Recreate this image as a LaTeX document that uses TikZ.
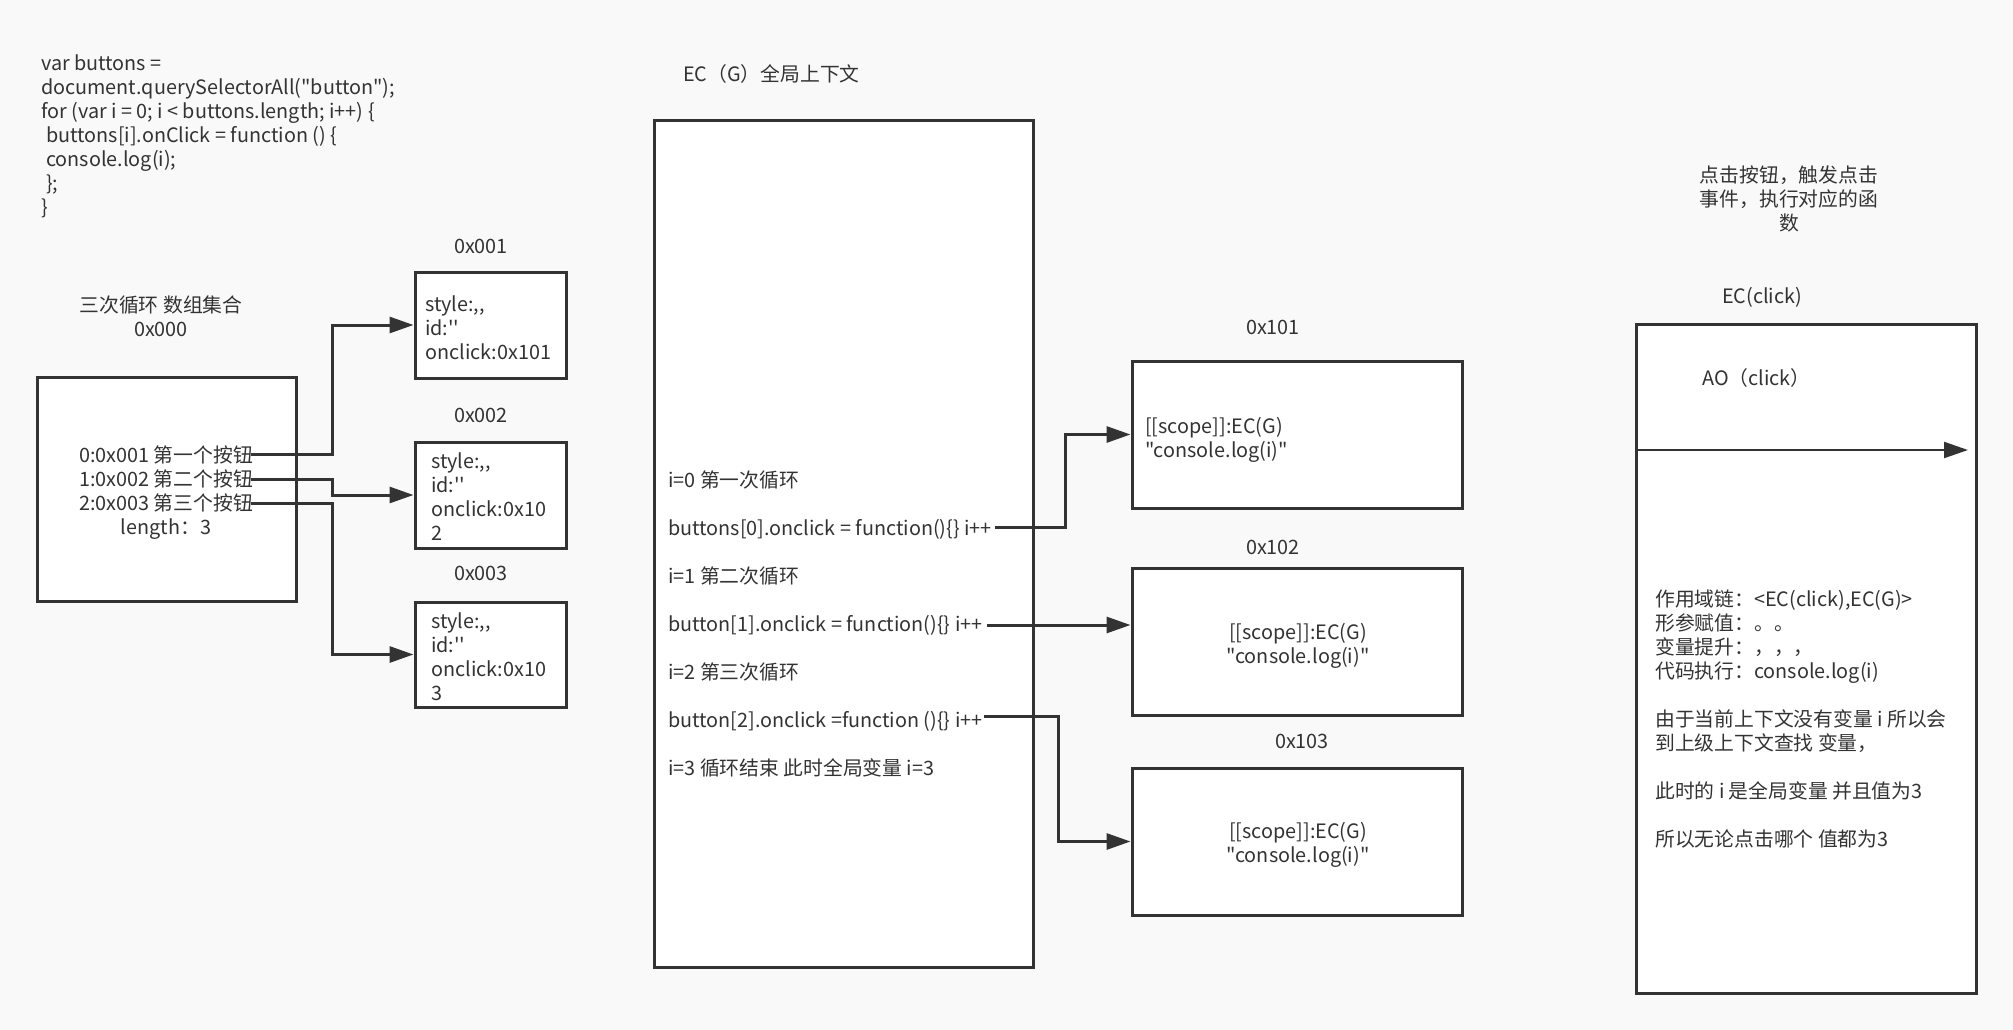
\documentclass[tikz,border=0pt]{standalone}
\usepackage{fontspec}
\setmainfont{Noto Sans CJK SC}[Ligatures=TeXOff]
\usetikzlibrary{arrows.meta}
\definecolor{ink}{HTML}{333333}
\definecolor{paper}{HTML}{F9F9F9}
\newcommand\fs{\fontsize{19.8}{24}\selectfont}
\begin{document}
\begin{tikzpicture}[x=1pt,y=-1pt,
  box/.style={draw=ink, line width=3pt, fill=white, inner sep=0pt},
  txt/.style={inner sep=0pt, font=\fs, text=ink, align=left},
  ctxt/.style={inner sep=0pt, font=\fs, text=ink, align=center},
  link/.style={draw=ink, line width=3pt, -{Triangle[length=24pt,width=16pt]}},
]
\fill[paper] (0,0) rectangle (2013,1030);
\useasboundingbox (0,0) rectangle (2013,1030);

% left: code
\node[txt, anchor=north west] (code) at (41,53.2) {\strut var buttons =\\document.querySelectorAll("button");\\for (var i = 0; i < buttons.length; i++) \{\\\hspace*{5pt}buttons[i].onClick = function () \{\\\hspace*{5pt}console.log(i);\\\hspace*{5pt}\};\\\}};

% array object
\node[ctxt, anchor=north] (arrtitle) at (161,295.2) {\strut 三次循环 数组集合\\0x000};
\node[box, minimum width=259pt, minimum height=224pt] (b0) at (166.5,489) {};
\node[ctxt, anchor=north] (b0t) at (166,445.2) {\strut 0:0x001 第一个按钮\\1:0x002 第二个按钮\\2:0x003 第三个按钮\\length：3};

% button objects
\node[ctxt] (l1) at (481,246) {0x001};
\node[ctxt] (l2) at (481,415) {0x002};
\node[ctxt] (l3) at (481,573) {0x003};
\node[box, minimum width=151pt, minimum height=106pt] (b1) at (490.5,325) {};
\node[box, minimum width=151pt, minimum height=106pt] (b2) at (490.5,495) {};
\node[box, minimum width=151pt, minimum height=105pt] (b3) at (490.5,654.5) {};
\node[txt, anchor=north west] (b1t) at (425,294.2) {\strut style:,,\\id:''\\onclick:0x101};
\node[txt, anchor=north west] (b2t) at (431,451.2) {\strut style:,,\\id:''\\onclick:0x10\\2};
\node[txt, anchor=north west] (b3t) at (431,611.2) {\strut style:,,\\id:''\\onclick:0x10\\3};

\coordinate (s1) at (251,454);
\coordinate (s2) at (251,479);
\coordinate (s3) at (251,503);
\draw[link] (s1) -- ++(81,0) |- (b1.west);
\draw[link] (s2) -- ++(81,0) |- (b2.west);
\draw[link] (s3) -- ++(81,0) |- (b3.west);

% global EC
\node[txt, anchor=north west] (ecg) at (683,64.2) {\strut EC（G）全局上下文};
\node[box, minimum width=379pt, minimum height=846pt] (g) at (843.5,544) {};
\node[txt, anchor=north west] (gt) at (668,470.2) {\strut i=0 第一次循环\\[24pt]buttons[0].onclick = function()\{\} i++\\[24pt]i=1 第二次循环\\[24pt]button[1].onclick = function()\{\} i++\\[24pt]i=2 第三次循环\\[24pt]button[2].onclick =function ()\{\} i++\\[24pt]i=3 循环结束 此时全局变量 i=3};

% function objects
\node[ctxt] (l101) at (1273,327) {0x101};
\node[ctxt] (l102) at (1273,547) {0x102};
\node[ctxt] (l103) at (1302,741) {0x103};
\node[box, minimum width=330pt, minimum height=147pt] (c1) at (1297,434.5) {};
\node[box, minimum width=330pt, minimum height=147pt] (c2) at (1297,641.5) {};
\node[box, minimum width=330pt, minimum height=147pt] (c3) at (1297,841.5) {};
\node[txt, anchor=north west] (c1t) at (1145,416.2) {\strut [[scope]]:EC(G)\\"console.log(i)"};
\node[ctxt, anchor=north] (c2t) at (1298,622.2) {\strut [[scope]]:EC(G)\\"console.log(i)"};
\node[ctxt, anchor=north] (c3t) at (1298,821.2) {\strut [[scope]]:EC(G)\\"console.log(i)"};

\coordinate (s4) at (995,527);
\coordinate (s5) at (987,625);
\coordinate (s6) at (984,716);
\draw[link] (s4) -- ++(70,0) |- (c1.west);
\draw[link] (s5) -- (s5 -| c2.west);
\draw[link] (s6) -- ++(74,0) |- (c3.west);

% click EC
\node[ctxt, anchor=north] (rt) at (1789,165.2) {\strut 点击按钮，触发点击\\事件，执行对应的函\\数};
\node[ctxt] (ecc) at (1762,297) {EC(click)};
\node[box, minimum width=340pt, minimum height=669pt] (r) at (1806,658.5) {};
\node[txt, anchor=north west] (ao) at (1702,368.2) {\strut AO（click）};
\coordinate (r1) at (1636,450);
\coordinate (r2) at (1968,450);
\draw[link, line width=2pt] (r1) -- (r2);
\node[txt, anchor=north west] (rtx) at (1655,589.2) {\strut 作用域链：<EC(click),EC(G)>\\形参赋值：。。\\变量提升：，，，\\代码执行：console.log(i)\\[24pt]由于当前上下文没有变量 i 所以会\\到上级上下文查找 变量，\\[24pt]此时的 i 是全局变量 并且值为3\\[24pt]所以无论点击哪个 值都为3};
\end{tikzpicture}
\end{document}
